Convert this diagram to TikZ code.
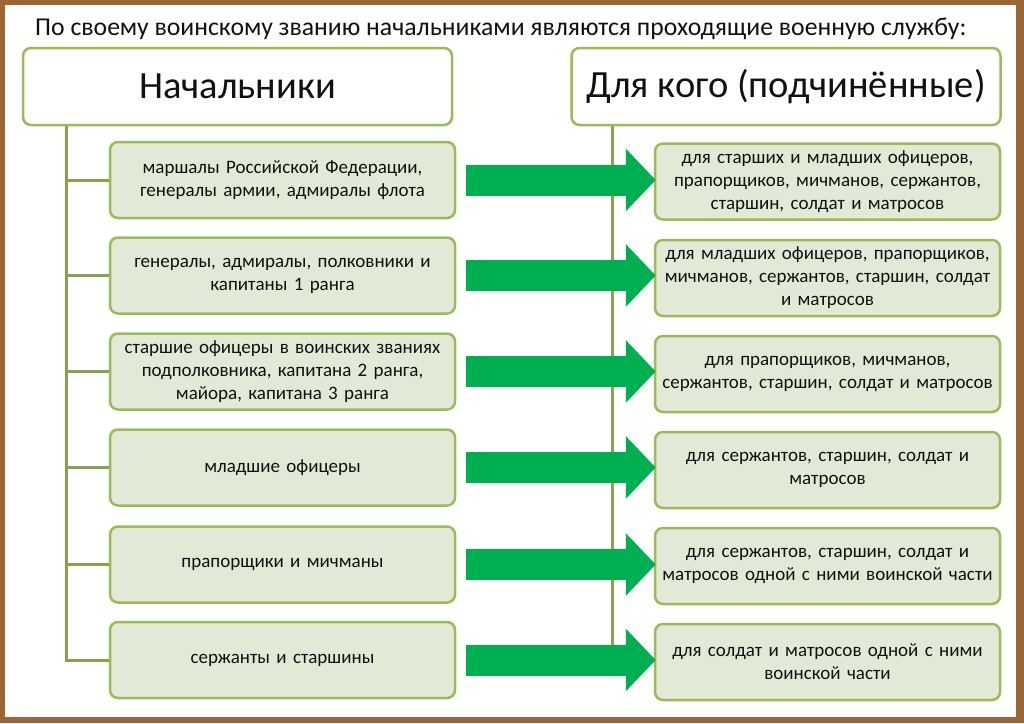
\documentclass[tikz,border=0pt]{standalone}
\usepackage{fontspec}
\setmainfont{Carlito}
\usetikzlibrary{arrows.meta}
\definecolor{frame}{HTML}{9A6634}
\definecolor{boxline}{HTML}{9BBB59}
\definecolor{boxfill}{HTML}{E2E9D6}
\definecolor{treeline}{HTML}{87A34F}
\definecolor{arrowgreen}{HTML}{00B050}
\definecolor{txt}{HTML}{111111}
\tikzset{
  hdr/.style={draw=boxline, line width=2.5pt, fill=white, rounded corners=8pt,
    minimum width=429pt, minimum height=77pt, inner sep=0pt,
    font=\fontsize{38.5}{44}\selectfont, text=txt},
  lbox/.style={draw=boxline, line width=2.5pt, fill=boxfill, rounded corners=8pt,
    minimum width=345pt, minimum height=76pt, inner sep=0pt, text width=342pt,
    align=center, font=\fontsize{19}{23}\selectfont, text=txt},
  rbox/.style={lbox},
  tree/.style={draw=treeline, line width=3pt},
  bigarrow/.style={draw=arrowgreen, line width=31pt, -{Triangle[length=30pt,width=61pt]}}
}
\begin{document}
\begin{tikzpicture}[x=1pt,y=-1pt]
\fill[frame] (0,0) rectangle (1024,723);
\fill[white] (5,5) rectangle (1016,717);
\useasboundingbox (0,0) rectangle (1024,723);
\node[anchor=west, font=\fontsize{25.7}{30}\selectfont, text=txt, inner sep=0pt] (title) at (35,29)
  {По своему воинскому званию начальниками являются проходящие военную службу:};
\node[hdr] (H1) at (237.5,86.5) {Начальники};
\node[hdr] (H2) at (786,86.5) {Для кого (подчинённые)};
\node[lbox] (L1) at (282.5,180) {маршалы Российской Федерации,\\генералы армии, адмиралы флота};
\node[lbox] (L2) at (282.5,275.5) {генералы, адмиралы, полковники и\\капитаны 1 ранга};
\node[lbox] (L3) at (282.5,371.5) {старшие офицеры в воинских званиях\\подполковника, капитана 2 ранга,\\майора, капитана 3 ранга};
\node[lbox] (L4) at (282.5,467.5) {младшие офицеры};
\node[lbox] (L5) at (282.5,564.5) {прапорщики и мичманы};
\node[lbox] (L6) at (282.5,660) {сержанты и старшины};
\node[rbox] (R1) at (827.5,181.5) {для старших и младших офицеров,\\прапорщиков, мичманов, сержантов,\\старшин, солдат и матросов};
\node[rbox] (R2) at (827.5,278) {для младших офицеров, прапорщиков,\\мичманов, сержантов, старшин, солдат\\и матросов};
\node[rbox] (R3) at (827.5,374) {для прапорщиков, мичманов,\\сержантов, старшин, солдат и матросов};
\node[rbox] (R4) at (827.5,470) {для сержантов, старшин, солдат и\\матросов};
\node[rbox] (R5) at (827.5,566) {для сержантов, старшин, солдат и\\матросов одной с ними воинской части};
\node[rbox] (R6) at (827.5,662) {для солдат и матросов одной с ними\\воинской части};
% tree lines
\coordinate (tl) at ([xshift=45pt]H1.south west);
\coordinate (tr) at ([xshift=42pt]H2.south west);
\begin{scope}[on background layer/.try]
\draw[tree] (tl) |- (L6.west);
\foreach \i in {1,...,5} {\draw[tree] (L\i.west) -- (L\i.west -| tl);}
\draw[tree] (tr) -- ([yshift=-14pt]tr |- R6.center);
\end{scope}
% arrows
\foreach \i in {1,...,6} {
  \draw[bigarrow] ([xshift=10pt]L\i.east) -- ([xshift=2pt]R\i.west |- L\i.east);
}
\end{tikzpicture}
\end{document}
